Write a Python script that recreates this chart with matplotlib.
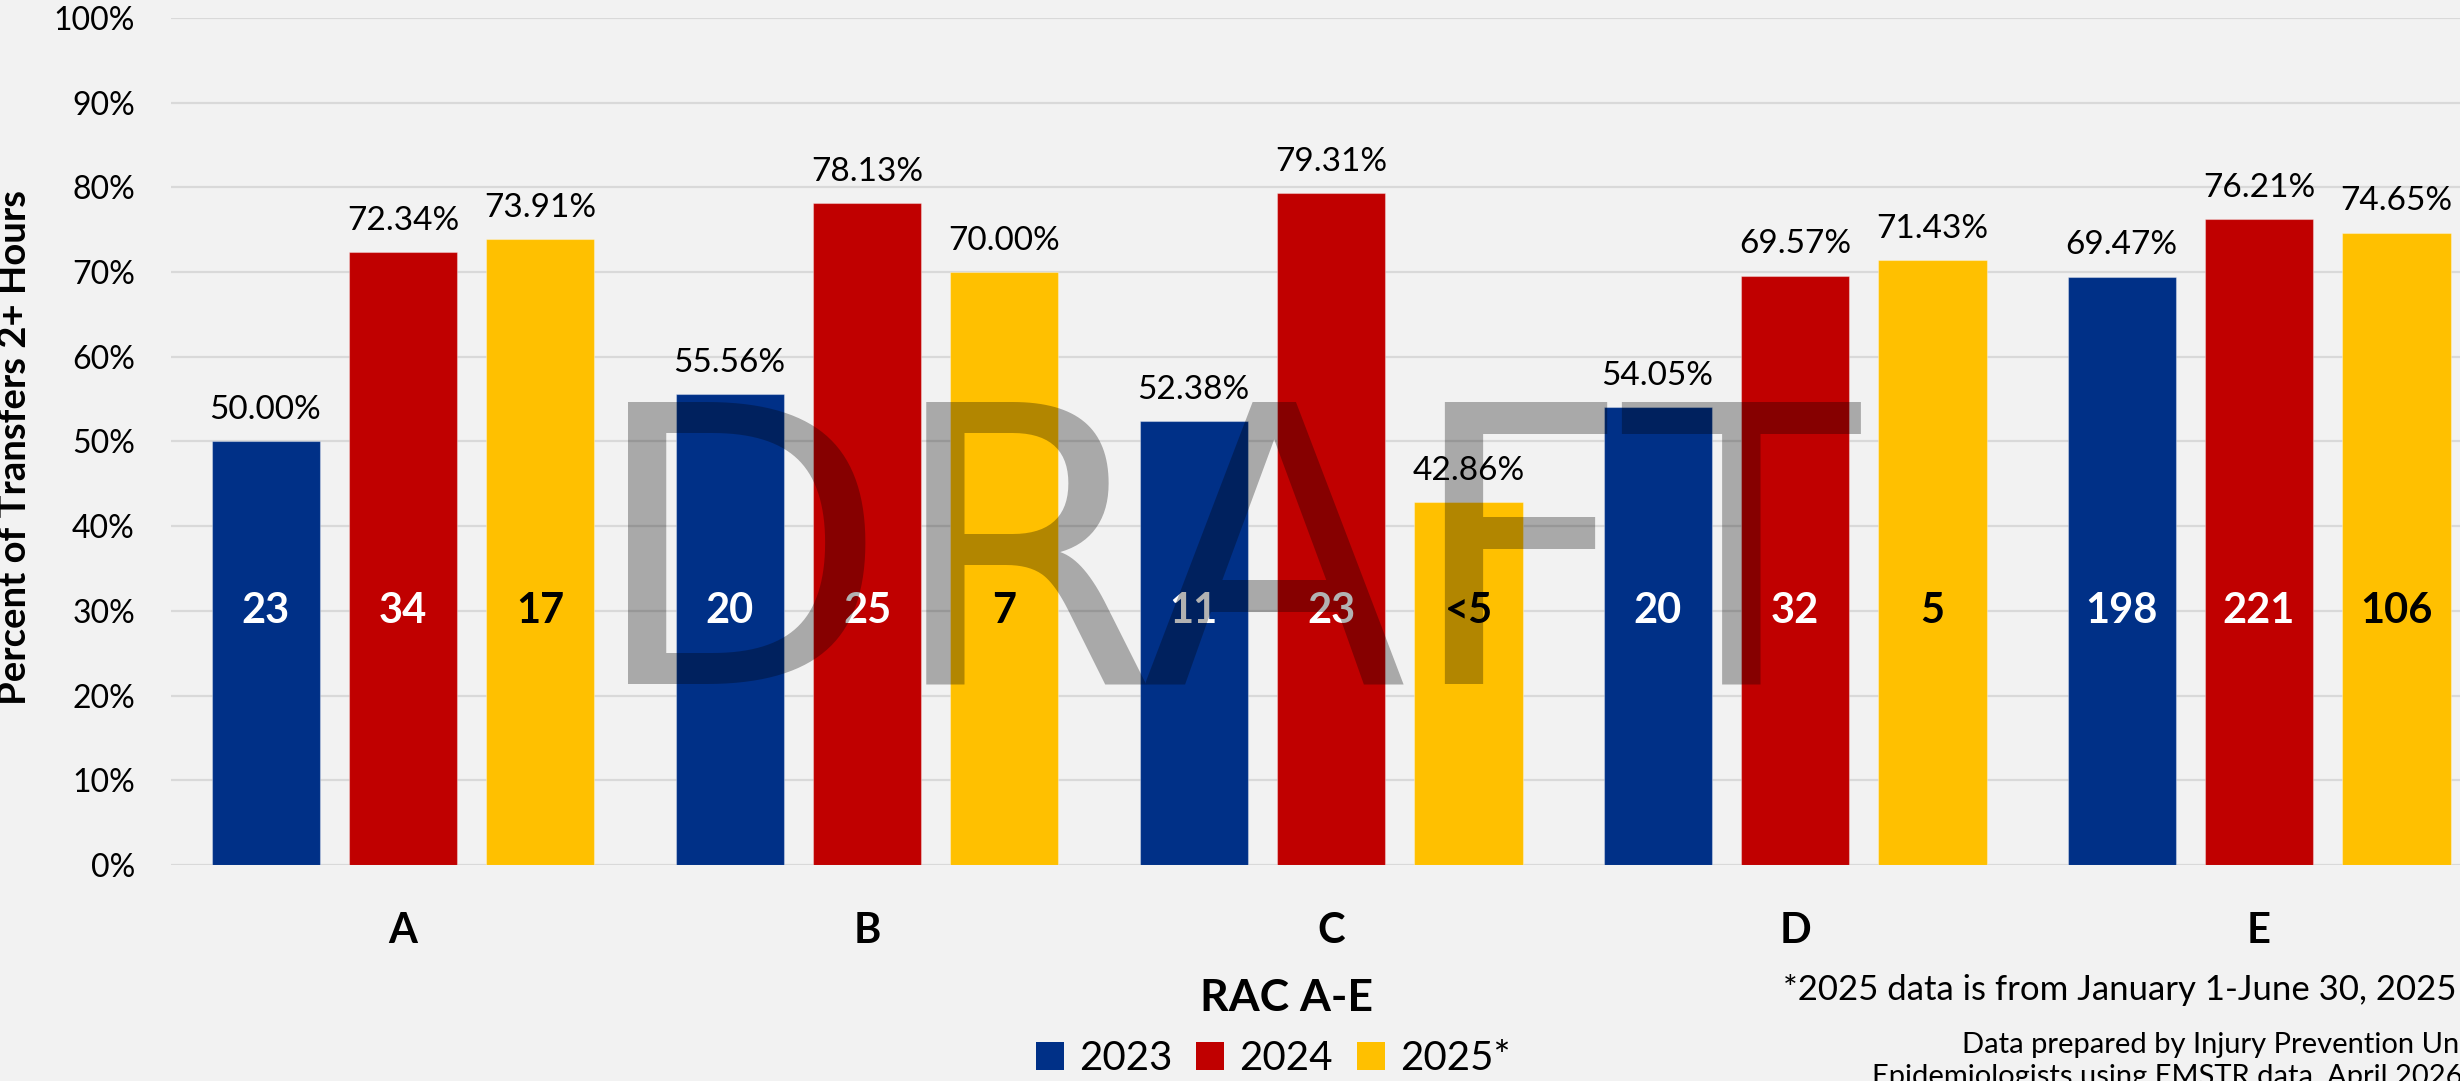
import matplotlib
matplotlib.use("Agg")
import matplotlib.pyplot as plt
import numpy as np
from matplotlib.ticker import PercentFormatter
from matplotlib.patches import Patch

categories = ["A", "B", "C", "D", "E"]
series_names = ["2023", "2024", "2025*"]
pct_2023 = [50.00, 55.56, 52.38, 54.05, 69.47]
pct_2024 = [72.34, 78.13, 79.31, 69.57, 76.21]
pct_2025 = [73.91, 70.00, 42.86, 71.43, 74.65]
n_2023 = ["23", "20", "11", "20", "198"]
n_2024 = ["34", "25", "23", "32", "221"]
n_2025 = ["17", "7", "<5", "5", "106"]
yticks = [0, 10, 20, 30, 40, 50, 60, 70, 80, 90, 100]

colors = ["#003087", "#C00000", "#FFC000"]
count_colors = ["white", "white", "black"]
BG = "#F2F2F2"
FONT = ["Lato", "DejaVu Sans"]
plt.rcParams["font.family"] = FONT

fig = plt.figure(figsize=(24.6, 10.81), dpi=100, facecolor=BG)
ax = fig.add_axes([0.06951, 0.1998, 0.9431, 0.7836])
ax.set_facecolor(BG)

x = np.arange(len(categories))
offsets = [-0.2963, 0.0, 0.2963]
width = 0.2328
pcts = [pct_2023, pct_2024, pct_2025]
counts = [n_2023, n_2024, n_2025]

for i in range(3):
    bars = ax.bar(x + offsets[i], pcts[i], width, color=colors[i], zorder=2,
                  edgecolor=(1, 1, 1, 0.35), linewidth=0.8)
    for b, v, c in zip(bars, pcts[i], counts[i]):
        cx = b.get_x() + b.get_width() / 2
        ax.annotate(f"{v:.2f}%", (cx, v), xytext=(0, 16), textcoords="offset points",
                    ha="center", va="baseline", fontsize=24, color="black", zorder=4)
        ax.text(cx, 30, c, ha="center", va="center", fontsize=30, fontweight="bold",
                color=count_colors[i], zorder=4)

ax.set_xlim(-0.5, 4.5)
ax.set_ylim(0, 100)
ax.set_yticks(yticks)
ax.yaxis.set_major_formatter(PercentFormatter(decimals=0))
ax.grid(axis="y", color="#D9D9D9", linewidth=1.6, zorder=0)
ax.set_axisbelow(True)
for s in ax.spines.values():
    s.set_visible(False)
ax.set_xticks(x)
ax.set_xticklabels(categories, fontsize=30, fontweight="bold")
ax.tick_params(axis="x", length=0, pad=34)
ax.tick_params(axis="y", length=0, pad=26, labelsize=23)

fig.text(0.006, 0.586, "Percent of Transfers 2+ Hours", rotation=90, ha="center", va="center",
         fontsize=27.5, fontweight="bold")
fig.text(0.5228, 0.0768, "RAC A-E", ha="center", va="center", fontsize=32, fontweight="bold")

handles = [Patch(facecolor=c) for c in colors]
fig.legend(handles, series_names, loc="center", bbox_to_anchor=(0.5175, 0.021), ncol=3,
           frameon=False, fontsize=29, handlelength=0.7, handleheight=0.7,
           handletextpad=0.37, columnspacing=0.6, borderpad=0)

fig.text(0.9984, 0.0842, "*2025 data is from January 1-June 30, 2025", ha="right", va="center",
         fontsize=25)
fig.text(0.7976, 0.0259, "Data prepared by Injury Prevention Unit", ha="left", va="baseline",
         fontsize=21)
fig.text(0.761, -0.0037, "Epidemiologists using EMSTR data, April 2026", ha="left", va="baseline",
         fontsize=21)

fig.text(0.4978, 0.3673, "DRAFT", ha="center", va="baseline", fontsize=279,
         family="DejaVu Sans", color="black", alpha=0.3, zorder=10)

fig.savefig("out.png", dpi=100, facecolor=BG)
